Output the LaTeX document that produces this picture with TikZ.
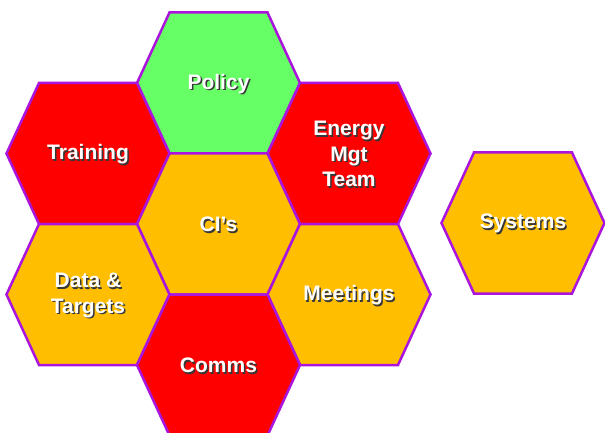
\documentclass[tikz,border=0pt]{standalone}
\usepackage{fontspec}
\setmainfont{Liberation Sans}
\usetikzlibrary{backgrounds}
\definecolor{hexred}{RGB}{255,0,0}
\definecolor{hexgreen}{RGB}{102,255,102}
\definecolor{hexorange}{RGB}{255,190,0}
\definecolor{hexedge}{RGB}{170,20,220}
\definecolor{textshade}{RGB}{55,55,55}
\newcommand\shadowed[1]{\makebox[0pt]{\hspace{3pt}\raisebox{-1.5pt}{\textcolor{textshade}{#1}}}\makebox[0pt]{#1}}
\newcommand\hexcell[2]{\filldraw[hexline,fill=#2] (#1) ++(-81.5,-1.5) -- ++(32.5,-70.5) -- ++(98,0) -- ++(32.5,70.5) -- ++(-32.5,70.5) -- ++(-98,0) -- cycle;}
\begin{document}
\begin{tikzpicture}[x=1pt,y=-1pt,
	hexline/.style={draw=hexedge,line width=2.5pt,line join=miter},
	hexlabel/.style={text=white,font=\bfseries\fontsize{21}{25.5}\selectfont,align=center,yshift=-1.5pt}]
	\useasboundingbox (0,0) rectangle (605,433);
	\node[hexlabel] (policy) at (218.5,83) {\shadowed{Policy}};
	\node[hexlabel] (training) at (88,153.5) {\shadowed{Training}};
	\node[hexlabel] (energy) at (349,153.5) {\shadowed{Energy}\\\shadowed{Mgt}\\\shadowed{Team}};
	\node[hexlabel] (cis) at (218.5,224) {\shadowed{CI’s}};
	\node[hexlabel] (data) at (88,294.5) {\shadowed{Data \&}\\\shadowed{Targets}};
	\node[hexlabel] (meetings) at (349,294.5) {\shadowed{Meetings}};
	\node[hexlabel] (comms) at (218.5,365) {\shadowed{Comms}};
	\node[hexlabel] (systems) at (523,223) {\shadowed{Systems}};
	\begin{pgfonlayer}{background}
		\hexcell{policy}{hexgreen}
		\hexcell{training}{hexred}
		\hexcell{energy}{hexred}
		\hexcell{cis}{hexorange}
		\hexcell{data}{hexorange}
		\hexcell{meetings}{hexorange}
		\hexcell{comms}{hexred}
		\hexcell{systems}{hexorange}
	\end{pgfonlayer}
\end{tikzpicture}
\end{document}
